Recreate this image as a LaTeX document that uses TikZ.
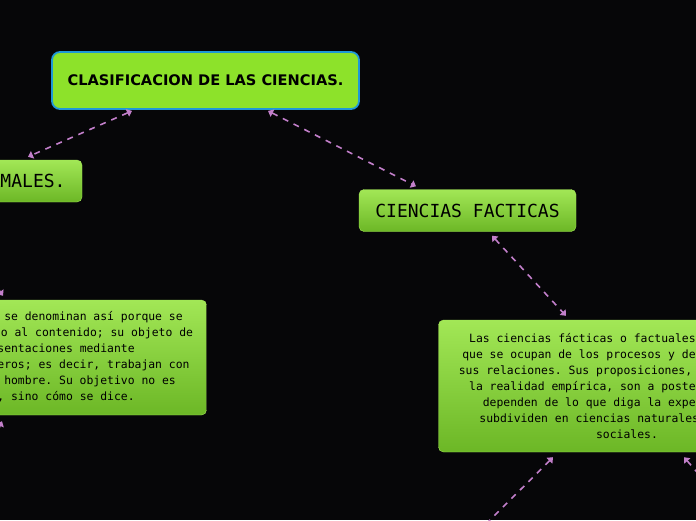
\documentclass[tikz,border=0pt]{standalone}
\usepackage{fontspec}
\setmainfont{DejaVu Sans}
\setmonofont{DejaVu Sans Mono}
\usetikzlibrary{arrows.meta}

\definecolor{fondo}{HTML}{060608}
\definecolor{verde}{HTML}{8DE22A}
\definecolor{verdeclaro}{HTML}{A2E756}
\definecolor{verdeoscuro}{HTML}{6CB726}
\definecolor{azul}{HTML}{1F98D8}
\definecolor{lila}{HTML}{C27FCA}

\begin{document}
\begin{tikzpicture}[x=1pt,y=-1pt,
	titulo/.style={draw=azul,line width=1.8pt,fill=verde,rounded corners=8pt,
		minimum width=307pt,minimum height=57pt,font=\bfseries\fontsize{14.6}{16}\selectfont},
	rama/.style={draw=verdeclaro,top color=verdeclaro,bottom color=verdeoscuro,rounded corners=5pt,
		minimum height=42pt,font=\ttfamily\fontsize{18}{20}\selectfont},
	texto/.style={draw=verdeclaro,top color=verdeclaro,bottom color=verdeoscuro,rounded corners=5pt,
		align=center,minimum width=377pt,font=\ttfamily\fontsize{11.4}{16}\selectfont},
	enlace/.style={draw=lila,line width=1.6pt,dash pattern=on 6pt off 6pt,
		{Triangle[width=8pt,length=5pt]}-{Triangle[width=8pt,length=5pt]}}]
	\fill[fondo] (0,0) rectangle (696,520);
	\clip (0,0) rectangle (696,520);
	\node[titulo] (clasif) at (205.5,80.5) {CLASIFICACION DE LAS CIENCIAS.};
	\node[rama,minimum width=228pt] (formales) at (-32,181) {CIENCIAS FORMALES.};
	\node[rama,minimum width=217pt] (facticas) at (467.5,210.5) {CIENCIAS FACTICAS};
	\node[texto,minimum height=115pt] (formdesc) at (18,357.5) {Las ciencias formales se denominan así porque se\\
		refieren a la forma y no al contenido; su objeto de\\
		estudio: representaciones mediante\\
		signos, símbolos y números; es decir, trabajan con\\
		ideas creadas por el hombre. Su objetivo no es\\
		lo que se dice, sino cómo se dice.};
	\node[texto,minimum height=132pt] (factdesc) at (627,386) {Las ciencias fácticas o factuales son aquellas\\
		que se ocupan de los procesos y de los hechos, y\\
		sus relaciones. Sus proposiciones, que refieren a\\
		la realidad empírica, son a posteriori, ya que\\
		dependen de lo que diga la experiencia. Se\\
		subdividen en ciencias naturales y ciencias\\
		sociales.};
	\coordinate (sigue1) at (-45,530);
	\coordinate (sigue2) at (480,530);
	\coordinate (sigue3) at (730,510);
	\draw[enlace] ([xshift=-73.5pt,yshift=-1pt]clasif.south) to ([xshift=60pt,yshift=3pt]formales.north);
	\draw[enlace] ([xshift=62.5pt,yshift=-1pt]clasif.south) to ([xshift=-51.5pt,yshift=3pt]facticas.north);
	\draw[enlace] ([xshift=-28pt,yshift=-3pt]formales.south) to ([xshift=-15pt,yshift=4pt]formdesc.north);
	\draw[enlace] ([xshift=24.5pt,yshift=-4pt]facticas.south) to ([xshift=-61pt,yshift=4pt]factdesc.north);
	\draw[enlace] ([xshift=-16pt,yshift=-6pt]formdesc.south) to (sigue1);
	\draw[enlace] ([xshift=-74pt,yshift=-5pt]factdesc.south) to (sigue2);
	\draw[enlace] ([xshift=57pt,yshift=-5pt]factdesc.south) to (sigue3);
\end{tikzpicture}
\end{document}
